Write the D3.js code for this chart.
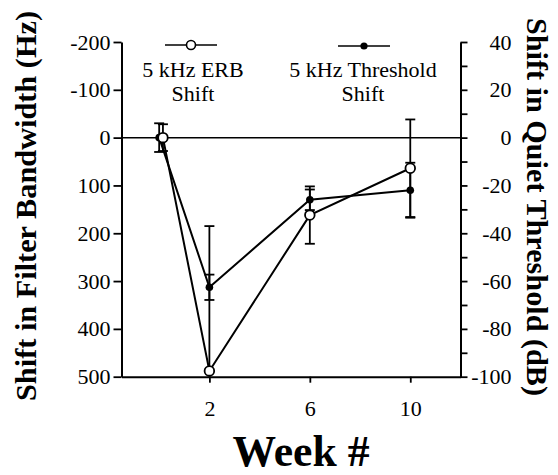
<!DOCTYPE html>
<html>
<head>
<meta charset="utf-8">
<script src="https://cdn.jsdelivr.net/npm/d3@7"></script>
<style>
  html, body { margin: 0; padding: 0; background: #fff; }
  svg { display: block; }
  text { font-family: "Liberation Serif", "Times New Roman", serif; fill: #000; }
</style>
</head>
<body>
<svg id="chart" width="558" height="475"></svg>
<script>
// Week of measurement for each series (ERB points at week 0 nudged right so both show)
const thrWeeks = [0, 2, 6, 10];
const erbWeeks = [0.15, 2, 6, 10];

// 5 kHz ERB shift (Hz) and its error
const erbShift = [0, 488, 162, 64];
const erbErr   = [28, 303, 60, 102];

// 5 kHz quiet-threshold shift (dB) and its error
const thrShift = [0, -62.6, -26, -22];
const thrErr   = [6, 5.3, 4.3, 11.5];

// Tick values
const weekTicks = [2, 6, 10];
const leftTicks = [-200, -100, 0, 100, 200, 300, 400, 500];
const rightTicks = [40, 30, 20, 10, 0, -10, -20, -30, -40, -50, -60, -70, -80, -90, -100];

const svg = d3.select("#chart");
const plotL = 121.5, plotR = 460.5, plotT = 42, plotB = 376.7;

const x = d3.scaleLinear().domain([-1.5, 12]).range([plotL, plotR]);
const yL = d3.scaleLinear().domain([-200, 500]).range([plotT, plotB]);
const yR = d3.scaleLinear().domain([40, -100]).range([plotT, plotB]);

// plain hyphen for negative numbers
const plain = d => String(d);

// resize a text so that its run length equals len
function fitLength(sel, len) {
  const n = sel.node();
  const fs = parseFloat(sel.attr("font-size"));
  const w = n.getComputedTextLength();
  if (w > 0) sel.attr("font-size", (fs * len / w).toFixed(2));
  return sel;
}

// zero reference line
svg.append("line")
  .attr("x1", plotL).attr("x2", plotR)
  .attr("y1", yL(0)).attr("y2", yL(0))
  .attr("stroke", "#000").attr("stroke-width", 1.5);

// axes
function styleAxis(g) {
  g.attr("font-family", null);
  g.select(".domain").attr("stroke-width", 2);
  g.selectAll(".tick line").attr("stroke-width", 1.8);
  g.selectAll(".tick text").attr("font-size", 22);
}

svg.append("g")
  .attr("transform", `translate(${plotL},0)`)
  .call(d3.axisLeft(yL).tickValues(leftTicks).tickFormat(plain)
        .tickSize(8).tickSizeOuter(0).tickPadding(3))
  .call(styleAxis);

const gR = svg.append("g")
  .attr("transform", `translate(${plotR},0)`)
  .call(d3.axisRight(yR).tickValues(rightTicks).tickSize(7).tickSizeOuter(0)
        .tickFormat(d => (d % 20 === 0 ? String(d) : "")))
  .call(styleAxis);
gR.selectAll(".tick text").attr("x", 51).attr("text-anchor", "end");

svg.append("g")
  .attr("transform", `translate(0,${plotB})`)
  .call(d3.axisBottom(x).tickValues(weekTicks).tickFormat(plain)
        .tickSize(6).tickSizeOuter(0).tickPadding(18))
  .call(styleAxis);

// error bars
function errorBars(weeks, vals, errs, y, cls) {
  const [dMin, dMax] = d3.extent(y.domain());
  const g = svg.append("g").attr("class", cls).attr("stroke", "#000").attr("stroke-width", 1.8);
  weeks.forEach((w, i) => {
    const cx = x(w);
    const lo = vals[i] - errs[i], hi = vals[i] + errs[i];
    const a = Math.max(dMin, Math.min(dMax, lo));
    const b = Math.max(dMin, Math.min(dMax, hi));
    g.append("line").attr("x1", cx).attr("x2", cx).attr("y1", y(a)).attr("y2", y(b));
    [lo, hi].forEach(v => {
      if (v >= dMin && v <= dMax) {
        g.append("line").attr("x1", cx - 5).attr("x2", cx + 5).attr("y1", y(v)).attr("y2", y(v));
      }
    });
  });
}
errorBars(thrWeeks, thrShift, thrErr, yR, "err-thr");
errorBars(erbWeeks, erbShift, erbErr, yL, "err-erb");

// series lines
const thrLine = d3.line().x((d, i) => x(thrWeeks[i])).y(d => yR(d));
const erbLine = d3.line().x((d, i) => x(erbWeeks[i])).y(d => yL(d));

svg.append("path").datum(thrShift).attr("d", thrLine)
  .attr("fill", "none").attr("stroke", "#000").attr("stroke-width", 2);
svg.append("path").datum(erbShift).attr("d", erbLine)
  .attr("fill", "none").attr("stroke", "#000").attr("stroke-width", 2);

// markers
svg.append("g").selectAll("circle").data(thrShift).join("circle")
  .attr("cx", (d, i) => x(thrWeeks[i])).attr("cy", d => yR(d)).attr("r", 3.8)
  .attr("fill", "#000");
svg.append("g").selectAll("circle").data(erbShift).join("circle")
  .attr("cx", (d, i) => x(erbWeeks[i])).attr("cy", d => yL(d)).attr("r", 4.8)
  .attr("fill", "#fff").attr("stroke", "#000").attr("stroke-width", 1.8);

// legend
const leg = svg.append("g");
leg.append("line").attr("x1", 165).attr("x2", 217).attr("y1", 45).attr("y2", 45)
  .attr("stroke", "#000").attr("stroke-width", 1.6);
leg.append("circle").attr("cx", 191).attr("cy", 45).attr("r", 4.5)
  .attr("fill", "#fff").attr("stroke", "#000").attr("stroke-width", 1.6);
leg.append("line").attr("x1", 338).attr("x2", 390).attr("y1", 46).attr("y2", 46)
  .attr("stroke", "#000").attr("stroke-width", 1.6);
leg.append("circle").attr("cx", 364).attr("cy", 46).attr("r", 3.6).attr("fill", "#000");

const legText = [
  { x: 193, y: 77, t: "5 kHz ERB" },
  { x: 193, y: 101, t: "Shift" },
  { x: 363, y: 77, t: "5 kHz Threshold" },
  { x: 363, y: 101, t: "Shift" }
];
leg.selectAll("text").data(legText).join("text")
  .attr("x", d => d.x).attr("y", d => d.y)
  .attr("text-anchor", "middle").attr("font-size", 22)
  .text(d => d.t);

// axis titles
const tL = svg.append("text")
  .attr("transform", "translate(36,206) rotate(-90)")
  .attr("text-anchor", "middle").attr("font-size", 30).attr("font-weight", "bold")
  .text("Shift in Filter Bandwidth (Hz)");
fitLength(tL, 390);

const tR = svg.append("text")
  .attr("transform", "translate(527,207) rotate(90)")
  .attr("text-anchor", "middle").attr("font-size", 30).attr("font-weight", "bold")
  .text("Shift in Quiet Threshold (dB)");
fitLength(tR, 378);

const tX = svg.append("text")
  .attr("x", 301).attr("y", 466)
  .attr("text-anchor", "middle").attr("font-size", 43).attr("font-weight", "bold")
  .text("Week #");
fitLength(tX, 137);
</script>
</body>
</html>
